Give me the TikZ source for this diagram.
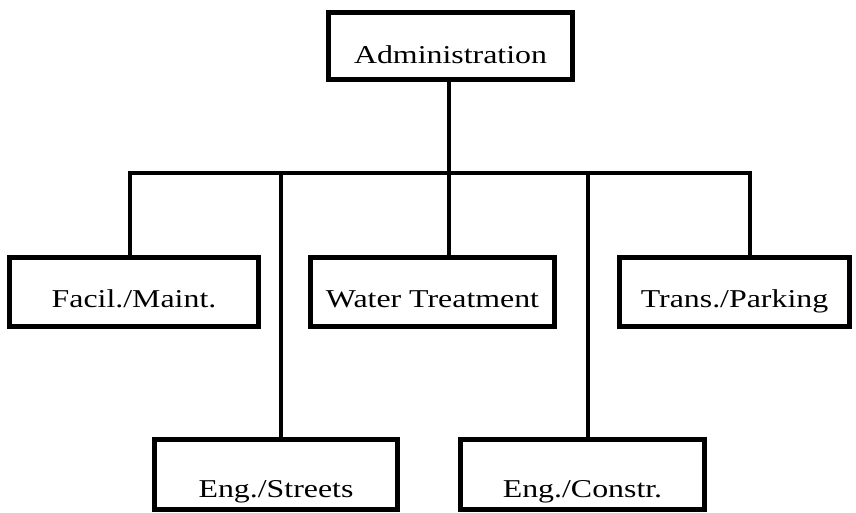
\documentclass[tikz,border=0pt]{standalone}
\usepackage{fontspec}
\setmainfont[FakeStretch=1.24]{Liberation Serif}

\begin{document}
\begin{tikzpicture}[x=1pt,y=-1pt,
    unit/.style={draw, line width=5.5pt, inner sep=0pt, font=\fontsize{25.7}{30}\selectfont},
    toprow/.style={unit, text height=50.5pt, text depth=16.5pt},
    midrow/.style={unit, text height=49.5pt, text depth=19.5pt},
    lowrow/.style={unit, text height=57.5pt, text depth=12.5pt},
    conn/.style={line width=4.5pt, line join=miter}]
    \useasboundingbox (0,0) rectangle (856,512);

    % Boxes
    \node[toprow, minimum width=244pt] (admin) at (450.5,46) {Administration};
    \node[midrow, minimum width=249pt] (facil) at (134,292) {Facil./Maint.};
    \node[midrow, minimum width=244pt] (water) at (432.5,292) {Water Treatment};
    \node[midrow, minimum width=230pt] (trans) at (734.5,292) {Trans./Parking};
    \node[lowrow, minimum width=243pt] (streets) at (276,474.5) {Eng./Streets};
    \node[lowrow, minimum width=244pt] (constr) at (582.5,474.5) {Eng./Constr.};

    % Bus junctions
    \coordinate (j1) at (130,173);
    \coordinate (j2) at (281,173);
    \coordinate (j3) at (449,173);
    \coordinate (j4) at (588,173);
    \coordinate (j5) at (750,173);

    % Connectors
    \draw[conn] (j1 |- facil.north) -- (j1) -- (j5) -- (j5 |- trans.north);
    \draw[conn] (admin.south -| j3) -- (j3 |- water.north);
    \draw[conn] (j2) -- (j2 |- streets.north);
    \draw[conn] (j4) -- (j4 |- constr.north);

\end{tikzpicture}
\end{document}
